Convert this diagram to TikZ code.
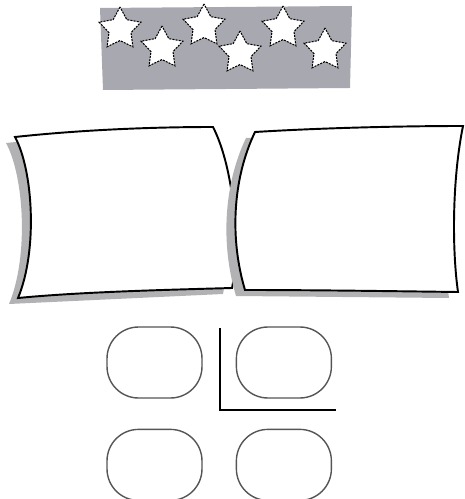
\documentclass[tikz,border=0pt]{standalone}
\usepackage{tikz}
\usetikzlibrary{shapes.geometric, positioning}
\definecolor{abuPita}{RGB}{168,168,176}
\definecolor{abuBayang}{RGB}{178,178,180}
\definecolor{garisKotak}{RGB}{85,85,85}

\begin{document}
\begin{tikzpicture}[x=0.02cm, y=-0.02cm,
  bintang/.style={star, star points=5, star point ratio=1.9, minimum size=0.88cm, inner sep=0pt, fill=white, draw=black, line width=0.6pt, dash pattern=on 1.2pt off 0.6pt},
  kertas/.style={fill=white, draw=black, line width=1.1pt},
  bayang/.style={fill=abuBayang, draw=none},
  kotak/.style={draw=garisKotak, line width=0.8pt, rounded corners=0.63cm, minimum width=1.9cm, minimum height=1.42cm},
]
  \useasboundingbox (0,0) rectangle (465,499);

  \fill[abuPita] (100,8) -- (352,6) -- (350,88) -- (103,90) -- cycle;
  \node[bintang] (s1) at (120,29) {};
  \node[bintang] (s2) at (162,48) {};
  \node[bintang] (s3) at (204,26) {};
  \node[bintang] (s4) at (240,53) {};
  \node[bintang] (s5) at (283,28) {};
  \node[bintang] (s6) at (325,50) {};

  \fill[bayang, shift={(-9,6)}] (15,137) .. controls (80,130) and (150,127) .. (213,127)
    .. controls (235,170) and (240,250) .. (232,288) -- (18,298)
    .. controls (38,250) and (33,170) .. cycle;
  \path[kertas] (15,137) .. controls (80,130) and (150,127) .. (213,127)
    .. controls (235,170) and (240,250) .. (232,288) .. controls (160,290) and (80,292) .. (18,298)
    .. controls (38,250) and (33,170) .. cycle;

  \fill[bayang, shift={(-9,6)}] (255,132) -- (463,126)
    .. controls (452,180) and (452,250) .. (458,292) -- (245,290)
    .. controls (230,240) and (232,180) .. cycle;
  \path[kertas] (255,132) .. controls (320,128) and (400,126) .. (463,126)
    .. controls (452,180) and (452,250) .. (458,292) .. controls (380,291) and (310,290) .. (245,290)
    .. controls (230,240) and (232,180) .. cycle;

  \node[kotak] (k1) at (154.5,362.5) {};
  \node[kotak, right=0.66cm of k1] (k2) {};
  \node[kotak, below=0.6cm of k1] (k3) {};
  \node[kotak, right=0.66cm of k3] (k4) {};

  \coordinate (sudut) at (220,410);
  \draw[line width=1pt] (220,328) -- (sudut) -- (336,410);
\end{tikzpicture}
\end{document}
